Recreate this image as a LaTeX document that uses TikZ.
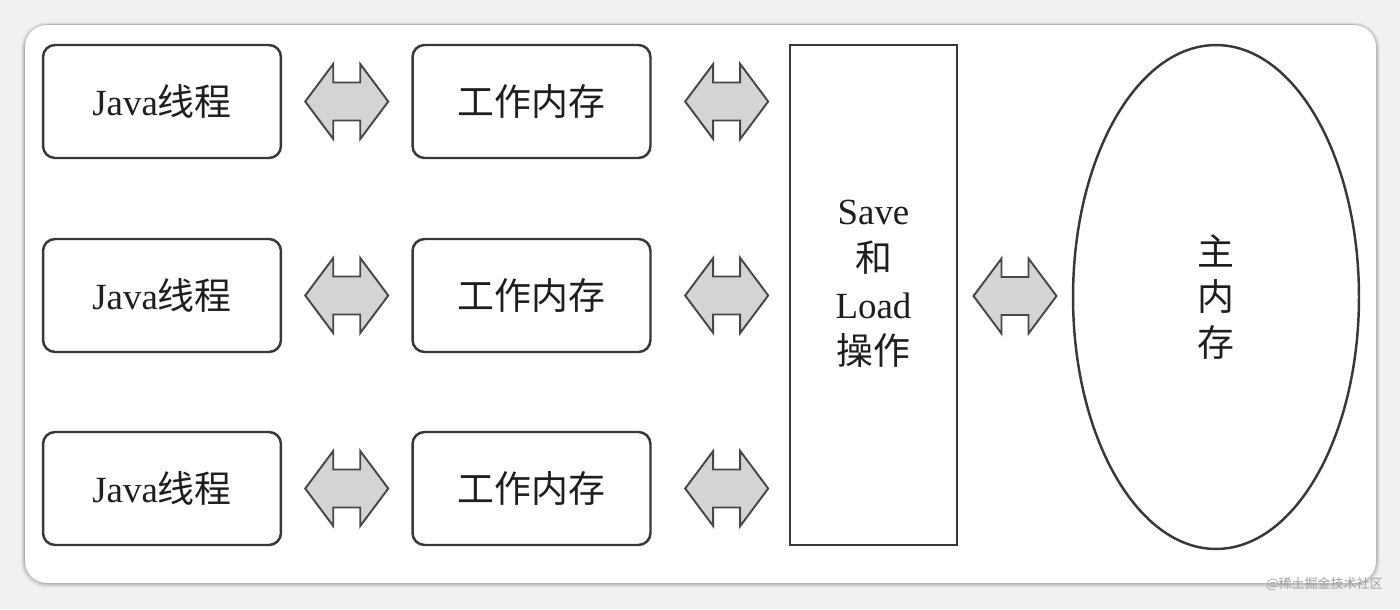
\documentclass[tikz,border=0pt]{standalone}
\usepackage{fontspec}
\setmainfont{Liberation Serif}
\newfontfamily\cjk{Noto Sans CJK SC}
\usetikzlibrary{calc,shapes.geometric}
\definecolor{bgc}{HTML}{F1F1F1}
\definecolor{linec}{HTML}{383838}
\definecolor{arrf}{HTML}{D4D4D4}
\definecolor{arrc}{HTML}{474747}
\definecolor{wmc}{HTML}{A0A0A0}
\definecolor{txtc}{HTML}{1E1E1E}
\newcommand\zh[1]{{\cjk #1}}
\newcommand\dblarrow[1]{%
  \begin{scope}[shift={(#1)}]
    \draw[dblarr] (-41.5,0) -- (-13.5,-37.5) -- (-13.5,-19) -- (13.5,-19) -- (13.5,-37.5)
      -- (41.5,0) -- (13.5,37.5) -- (13.5,19) -- (-13.5,19) -- (-13.5,37.5) -- cycle;
  \end{scope}}
\begin{document}
\begin{tikzpicture}[x=0.02cm,y=-0.02cm,
  membox/.style={draw=linec, line width=1.4pt, rounded corners=0.24cm,
    minimum width=4.76cm, minimum height=2.26cm, inner sep=0pt, text=txtc,
    font=\fontsize{21}{25}\selectfont},
  slbox/.style={draw=linec, line width=1.4pt, minimum width=3.34cm, minimum height=10cm,
    inner sep=0pt},
  sltext/.style={align=center, inner sep=0pt, text=txtc, font=\fontsize{21}{26.6}\selectfont},
  mainmem/.style={draw=linec, line width=1.4pt, ellipse, minimum width=5.72cm,
    minimum height=10.08cm, inner sep=0pt, align=center, text=txtc,
    font=\fontsize{21}{25.8}\selectfont},
  dblarr/.style={draw=arrc, fill=arrf, line width=1.1pt, line join=miter},
  wm/.style={text=wmc, font=\cjk\fontsize{7.4}{8}\selectfont, inner sep=0pt}]
  % background and panel
  \fill[bgc] (0,0) rectangle (1400,609);
  \useasboundingbox (0,0) rectangle (1400,609);
  \foreach \o/\a in {8/0.04,6/0.06,4/0.08,2/0.12}{
    \fill[black,opacity=\a,rounded corners=0.5cm] (25-\o*0.5,25-\o*0.3) rectangle (1376+\o*0.5,583+\o*0.6);
  }
  \fill[white,rounded corners=0.44cm] (25,25) rectangle (1376,583);
  % nodes
  \node[membox] (j1) at (162,101.5) {Java\zh{线程}};
  \node[membox] (j2) at (162,295.5) {Java\zh{线程}};
  \node[membox] (j3) at (162,488.5) {Java\zh{线程}};
  \node[membox] (w1) at (531.5,101.5) {\zh{工作内存}};
  \node[membox] (w2) at (531.5,295.5) {\zh{工作内存}};
  \node[membox] (w3) at (531.5,488.5) {\zh{工作内存}};
  \node[slbox] (sl) at (873.5,295) {};
  \node[sltext] (slt) at ($(sl.center)+(0,-11)$) {Save\\\zh{和}\\Load\\\zh{操作}};
  \node[mainmem] (mm) at (1216,297) {\zh{主}\\\zh{内}\\\zh{存}};
  % arrows
  \coordinate (a1) at ($(j1.east)!0.5!(w1.west)$);
  \coordinate (a2) at ($(j2.east)!0.5!(w2.west)$);
  \coordinate (a3) at ($(j3.east)!0.5!(w3.west)$);
  \coordinate (b1) at ($(w1.east)+(75,0)$);
  \coordinate (b2) at ($(w2.east)+(75,0)$);
  \coordinate (b3) at ($(w3.east)+(75,0)$);
  \coordinate (c1) at ($(sl.east)!0.5!(mm.west)$);
  \dblarrow{a1}\dblarrow{a2}\dblarrow{a3}
  \dblarrow{b1}\dblarrow{b2}\dblarrow{b3}
  \dblarrow{c1}
  % watermark
  \node[wm, anchor=east] (wmk) at (1383,584) {@稀土掘金技术社区};
\end{tikzpicture}
\end{document}
